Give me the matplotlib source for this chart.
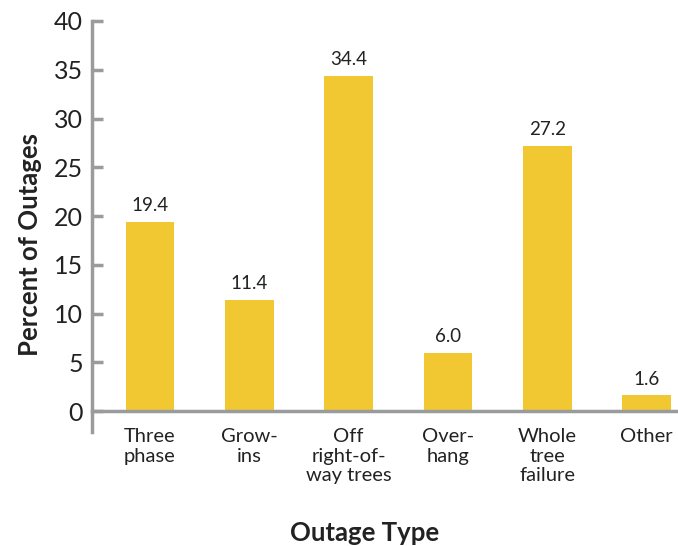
import matplotlib
matplotlib.use("Agg")
import matplotlib.pyplot as plt

categories = ["Three\nphase", "Grow-\nins", "Off\nright-of-\nway trees", "Over-\nhang", "Whole\ntree\nfailure", "Other"]
values = [19.4, 11.4, 34.4, 6.0, 27.2, 1.6]
yticks = [0, 5, 10, 15, 20, 25, 30, 35, 40]

plt.rcParams['font.family'] = ['Lato', 'DejaVu Sans']
text_color = "#222222"
bar_color = "#F2C832"
axis_color = "#9a9b9d"

fig = plt.figure(figsize=(6.78, 5.46), dpi=100)
ax = fig.add_axes([92/678, 1 - 432/546, 1 - 92/678, (432 - 21)/546])

x = list(range(len(categories)))
ax.bar(x, values, width=0.49, color=bar_color, zorder=2)
for xi, v in zip(x, values):
    ax.text(xi, v + 0.8, f"{v:.1f}", ha="center", va="bottom", fontsize=13.5, color=text_color)

ax.set_xlim(-0.584, 5.317)
ax.set_ylim(-2.15, 40)
ax.tick_params(axis="y", direction="in", length=8, width=2.5, color=axis_color, pad=6.5,
               labelsize=18, labelcolor=text_color)
ax.tick_params(axis="x", length=0, pad=12, labelsize=14.5, labelcolor=text_color)
ax.set_yticks(yticks)
ax.set_yticklabels([str(t) for t in yticks])
ax.set_xticks(x)
ax.set_xticklabels(categories, linespacing=1.2)

for s in ["top", "right"]:
    ax.spines[s].set_visible(False)
ax.spines["bottom"].set_position(("data", 0))
ax.spines["bottom"].set_color(axis_color)
ax.spines["bottom"].set_linewidth(2.5)
ax.spines["left"].set_color(axis_color)
ax.spines["left"].set_linewidth(2.5)

fig.text(30/678, 1 - 245/546, "Percent of Outages", rotation=90, ha="center", va="center",
         fontsize=18.5, fontweight="bold", color=text_color)
fig.text(365/678, 1 - 533/546, "Outage Type", ha="center", va="center",
         fontsize=18.5, fontweight="bold", color=text_color)

fig.savefig("out.png", dpi=100)
